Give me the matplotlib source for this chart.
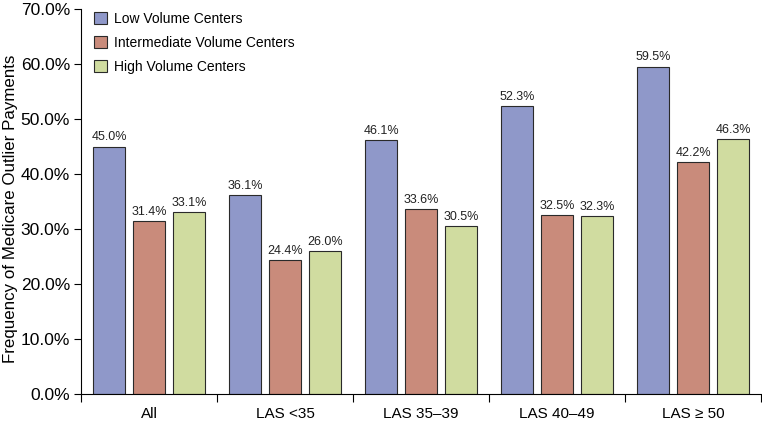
import matplotlib
matplotlib.use("Agg")
import matplotlib.pyplot as plt
import numpy as np
from matplotlib.ticker import FuncFormatter, FixedLocator

plt.rcParams['font.family'] = ['Liberation Sans', 'DejaVu Sans']

categories = ["All", "LAS <35", "LAS 35\u201339", "LAS 40\u201349", "LAS \u2265 50"]
series_names = ["Low Volume Centers", "Intermediate Volume Centers", "High Volume Centers"]
low = [45.0, 36.1, 46.1, 52.3, 59.5]
inter = [31.4, 24.4, 33.6, 32.5, 42.2]
high = [33.1, 26.0, 30.5, 32.3, 46.3]
colors = ["#8f98c9", "#c98b7b", "#d0dca0"]

fig = plt.figure(figsize=(7.62, 4.22), dpi=100)
ax = fig.add_axes([81/762, 1-394/422, 680/762, 385/422])

x = np.arange(len(categories))
w = 0.235
step = 0.294
for i, (vals, c, name) in enumerate(zip([low, inter, high], colors, series_names)):
    pos = x + (i - 1) * step
    ax.bar(pos, vals, width=w, color=c, edgecolor="#2a2a2a", linewidth=0.8, label=name)
    for p, v in zip(pos, vals):
        ax.text(p, v + 0.6, f"{v:.1f}%", ha="center", va="bottom", fontsize=9, color="#222222")

ax.set_xlim(-0.5, len(categories) - 0.5)
ax.set_ylim(0, 70)
ax.set_yticks(np.arange(0, 71, 10))
ax.yaxis.set_major_formatter(FuncFormatter(lambda v, p: f"{v:.1f}%"))
ax.tick_params(axis="y", labelsize=12.5, length=5, width=0.8, direction="out", pad=3)
ax.set_xticks(x)
ax.set_xticklabels(categories, fontsize=11)
ax.tick_params(axis="x", length=0, pad=9)
ax.xaxis.set_minor_locator(FixedLocator(np.arange(-0.5, len(categories), 1.0)))
ax.tick_params(axis="x", which="minor", length=6, width=0.8, direction="out")
ax.spines["top"].set_visible(False)
ax.spines["right"].set_visible(False)
ax.spines["left"].set_linewidth(0.8)
ax.spines["bottom"].set_linewidth(0.8)
ax.set_ylabel("Frequency of Medicare Outlier Payments", fontsize=12.2)
ax.yaxis.set_label_coords(-0.092, 0.48)

leg = ax.legend(loc="upper left", bbox_to_anchor=(0.0, 1.025), frameon=False, fontsize=10,
                handlelength=1.0, handleheight=1.0, labelspacing=0.72, handletextpad=0.5)

fig.savefig("out.png", dpi=100)
